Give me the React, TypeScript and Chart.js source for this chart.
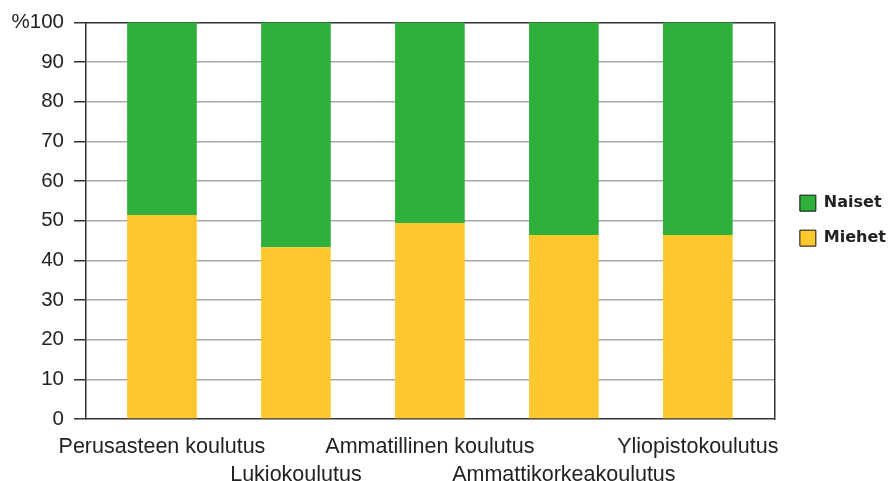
import React, { useEffect, useRef } from "react";
import { Chart, registerables } from "chart.js";

Chart.register(...registerables);

const categories = [
  "Perusasteen koulutus",
  "Lukiokoulutus",
  "Ammatillinen koulutus",
  "Ammattikorkeakoulutus",
  "Yliopistokoulutus",
];
const miehet = [51.4, 43.3, 49.4, 46.4, 46.4];
const naiset = [48.6, 56.7, 50.6, 53.6, 53.6];
const yTicks = [0, 10, 20, 30, 40, 50, 60, 70, 80, 90, 100];

const GREEN = "#2eb03a";
const YELLOW = "#fec72d";
const DARK = "#333333";
const FONT = "'Liberation Sans', Arial, sans-serif";

export default function App() {
  const ref = useRef<HTMLCanvasElement>(null);
  useEffect(() => {
    document.body.style.margin = "0";
    const canvas = ref.current!;
    const chart = new Chart(canvas, {
      type: "bar",
      data: {
        datasets: [
          {
            label: "Miehet",
            data: miehet.map((v, i) => ({ x: i, y: v })),
            backgroundColor: YELLOW,
            borderWidth: 0,
            barPercentage: 0.52,
            categoryPercentage: 1,
          },
          {
            label: "Naiset",
            data: naiset.map((v, i) => ({ x: i, y: v })),
            backgroundColor: GREEN,
            borderWidth: 0,
            barPercentage: 0.52,
            categoryPercentage: 1,
          },
        ],
      },
      options: {
        responsive: false,
        animation: false,
        layout: { padding: { top: 8.5, right: 0, bottom: 0, left: 0 } },
        plugins: {
          tooltip: { enabled: false },
          legend: {
            position: "right",
            fullSize: false,
            reverse: true,
            labels: {
              boxWidth: 16,
              boxHeight: 16,
              padding: 19,
              color: "#222",
              font: { family: "'DejaVu Sans', Verdana, sans-serif", size: 16, weight: "bold" },
              generateLabels: (c: any) =>
                Chart.defaults.plugins.legend.labels
                  .generateLabels(c)
                  .map((l: any) => ({ ...l, strokeStyle: "#111", lineWidth: 1 })),
            },
          },
        },
        scales: {
          x: {
            type: "linear",
            min: -0.567,
            max: 4.575,
            offset: false,
            bounds: "data",
            stacked: true,
            grid: { display: false, drawTicks: false },
            border: { display: true, color: DARK, width: 1.5 },
            afterBuildTicks: (s: any) => {
              s.ticks = categories.map((_, i) => ({ value: i }));
            },
            afterFit: (s: any) => {
              s.height = 62;
            },
            ticks: {
              autoSkip: false,
              maxRotation: 0,
              padding: 14,
              color: "#222",
              font: { family: FONT, size: 21.5, lineHeight: 1.3 },
              callback: (v: any) => {
                const i = Math.round(Number(v));
                const lab = categories[i] ?? "";
                return i % 2 === 0 ? [lab, ""] : ["", lab];
              },
            },
          },
          xTop: {
            type: "linear",
            position: "top",
            grid: { display: false, drawTicks: false },
            ticks: { display: false },
            border: { display: true, color: DARK, width: 1.5 },
            afterFit: (s: any) => {
              s.height = 0;
            },
          },
          y: {
            type: "linear",
            stacked: true,
            min: 0,
            max: 100,
            afterBuildTicks: (s: any) => {
              s.ticks = yTicks.map((v) => ({ value: v }));
            },
            afterFit: (s: any) => {
              s.width = 86;
            },
            grid: {
              color: (ctx: any) =>
                ctx.tick && (ctx.tick.value === 0 || ctx.tick.value === 100)
                  ? "rgba(0,0,0,0)"
                  : "#a8a8a8",
              lineWidth: 1.5,
              tickColor: DARK,
              tickLength: 12,
            },
            border: { display: true, color: DARK, width: 1.5 },
            ticks: {
              padding: 10,
              color: "#222",
              font: { family: FONT, size: 20.5 },
              callback: (v: any) => (Number(v) === 100 ? "%100" : String(v)),
            },
          },
          yRight: {
            type: "linear",
            position: "right",
            grid: { display: false, drawTicks: false },
            ticks: { display: false },
            border: { display: true, color: DARK, width: 1.5 },
            afterFit: (s: any) => {
              s.width = 6;
            },
          },
        },
      } as any,
    });
    return () => chart.destroy();
  }, []);
  return (
    <div style={{ width: 896, height: 481 }}>
      <canvas ref={ref} width={896} height={481} />
    </div>
  );
}
